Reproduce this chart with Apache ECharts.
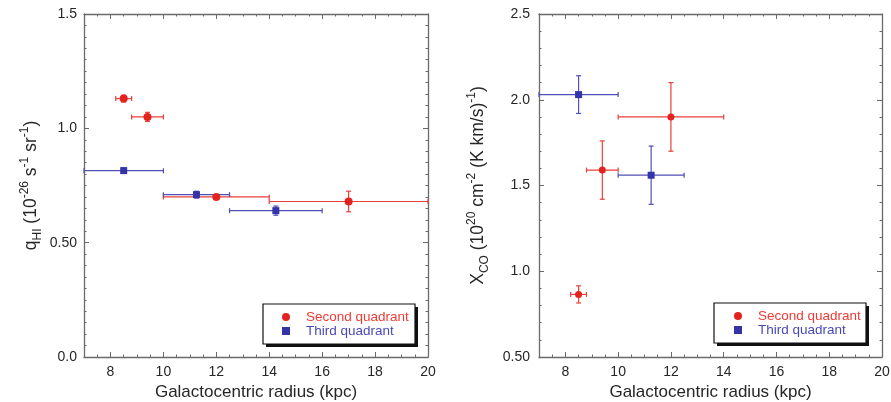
<!DOCTYPE html>
<html>
<head>
<meta charset="utf-8">
<script src="https://cdn.jsdelivr.net/npm/echarts@6/dist/echarts.min.js"></script>
<style>
html,body{margin:0;padding:0;background:#fff;}
#chart{width:891px;height:402px;}
</style>
</head>
<body>
<div id="chart"></div>
<script>
// ---- Data ----
// Left panel: q_HI
const hiSecondX    = [8.5, 9.4, 12.0, 17.0];
const hiSecondY    = [1.13, 1.05, 0.70, 0.68];
const hiSecondXErr = [0.3, 0.6, 2.0, 3.0];
const hiSecondYErr = [0.015, 0.02, 0.01, 0.045];

const hiThirdX    = [8.5, 11.25, 14.25];
const hiThirdY    = [0.815, 0.71, 0.64];
const hiThirdXErr = [1.5, 1.25, 1.75];
const hiThirdYErr = [0.012, 0.015, 0.02];

// Right panel: X_CO
const coSecondX    = [8.5, 9.4, 12.0];
const coSecondY    = [0.865, 1.59, 1.90];
const coSecondXErr = [0.3, 0.6, 2.0];
const coSecondYErr = [0.05, 0.17, 0.20];

const coThirdX    = [8.5, 11.25];
const coThirdY    = [2.03, 1.56];
const coThirdXErr = [1.5, 1.25];
const coThirdYErr = [0.11, 0.17];

// Axis ticks
const xMajorTicks = [8, 10, 12, 14, 16, 18, 20];
const xMinorTicks = [7.5, 8.5, 9, 9.5, 10.5, 11, 11.5, 12.5, 13, 13.5, 14.5, 15, 15.5, 16.5, 17, 17.5, 18.5, 19, 19.5];
const hiYLabels = {0: '0.0', 0.5: '0.50', 1: '1.0', 1.5: '1.5'};
const coYLabels = {0.5: '0.50', 1: '1.0', 1.5: '1.5', 2: '2.0', 2.5: '2.5'};

const seriesNames = ['Second quadrant', 'Third quadrant'];
const RED = '#e3231f';
const BLUE = '#3434a8';
const RED_BAR = '#e8403a';
const BLUE_BAR = '#4f4fb8';

const FONT = 'Liberation Sans, Arial, Helvetica, sans-serif';
const AXIS_COLOR = '#6a6a6a';
const TEXT_COLOR = '#262626';

function zip(xs, ys, ex, ey) {
  return xs.map((x, i) => [x, ys[i], ex[i], ey[i]]);
}

function errRenderer(color) {
  return function (params, api) {
    const x = api.value(0), y = api.value(1), ex = api.value(2), ey = api.value(3);
    const l = api.coord([x - ex, y]);
    const r = api.coord([x + ex, y]);
    const t = api.coord([x, y + ey]);
    const b = api.coord([x, y - ey]);
    const cap = 2.5;
    const st = {stroke: color, lineWidth: 1.2};
    const children = [
      {type: 'line', shape: {x1: l[0], y1: l[1], x2: r[0], y2: r[1]}, style: st},
      {type: 'line', shape: {x1: l[0], y1: l[1] - cap, x2: l[0], y2: l[1] + cap}, style: st},
      {type: 'line', shape: {x1: r[0], y1: r[1] - cap, x2: r[0], y2: r[1] + cap}, style: st},
      {type: 'line', shape: {x1: t[0], y1: t[1], x2: b[0], y2: b[1]}, style: st},
      {type: 'line', shape: {x1: t[0] - cap, y1: t[1], x2: t[0] + cap, y2: t[1]}, style: st},
      {type: 'line', shape: {x1: b[0] - cap, y1: b[1], x2: b[0] + cap, y2: b[1]}, style: st}
    ];
    return {type: 'group', children: children};
  };
}

function xAxes(gridIndex) {
  const base = {
    type: 'value', gridIndex: gridIndex, min: 7, max: 20,
    splitLine: {show: false},
    axisLine: {show: true, onZero: false, lineStyle: {color: AXIS_COLOR, width: 1.3}},
  };
  return [
    Object.assign({}, base, {
      position: 'bottom',
      axisTick: {show: true, inside: true, length: 5, customValues: xMajorTicks, lineStyle: {color: AXIS_COLOR, width: 1}},
      axisLabel: {show: true, customValues: xMajorTicks, margin: 8, fontFamily: FONT, fontSize: 14, color: TEXT_COLOR},
      name: 'Galactocentric radius (kpc)', nameLocation: 'middle', nameGap: 26,
      nameTextStyle: {fontFamily: FONT, fontSize: 17, color: TEXT_COLOR}
    }),
    Object.assign({}, base, {
      position: 'bottom',
      axisLine: {show: false, onZero: false},
      axisTick: {show: true, inside: true, length: 2.5, customValues: xMinorTicks, lineStyle: {color: AXIS_COLOR, width: 1}},
      axisLabel: {show: false}
    }),
    Object.assign({}, base, {
      position: 'top',
      axisTick: {show: true, inside: true, length: 5, customValues: xMajorTicks, lineStyle: {color: AXIS_COLOR, width: 1}},
      axisLabel: {show: false}
    }),
    Object.assign({}, base, {
      position: 'top',
      axisLine: {show: false, onZero: false},
      axisTick: {show: true, inside: true, length: 2.5, customValues: xMinorTicks, lineStyle: {color: AXIS_COLOR, width: 1}},
      axisLabel: {show: false}
    })
  ];
}

function yAxes(gridIndex, min, max, minorSplit, labels, name, nameGap, labelMargin) {
  const base = {
    type: 'value', gridIndex: gridIndex, min: min, max: max, interval: 0.5,
    splitLine: {show: false},
    axisLine: {show: true, onZero: false, lineStyle: {color: AXIS_COLOR, width: 1.3}},
    axisTick: {show: true, inside: true, length: 5, lineStyle: {color: AXIS_COLOR, width: 1}},
    minorTick: {show: true, splitNumber: minorSplit, length: 2.5, lineStyle: {color: AXIS_COLOR, width: 1}}
  };
  return [
    Object.assign({}, base, {
      position: 'left',
      axisLabel: {show: true, margin: labelMargin, fontFamily: FONT, fontSize: 14, color: TEXT_COLOR,
        formatter: v => (labels[v] !== undefined ? labels[v] : '')},
      name: name, nameLocation: 'middle', nameGap: nameGap, nameRotate: 90,
      nameTextStyle: {
        fontFamily: FONT, fontSize: 17, color: TEXT_COLOR,
        rich: {
          m: {fontFamily: FONT, fontSize: 17.5, lineHeight: 25, color: TEXT_COLOR},
          sup: {fontFamily: FONT, fontSize: 12, lineHeight: 25, verticalAlign: 'top', color: TEXT_COLOR},
          sub: {fontFamily: FONT, fontSize: 12, lineHeight: 25, verticalAlign: 'bottom', color: TEXT_COLOR}
        }
      }
    }),
    Object.assign({}, base, {
      position: 'right',
      axisLabel: {show: false}
    })
  ];
}

const chart = echarts.init(document.getElementById('chart'), null, {renderer: 'canvas'});

const xAxisList = xAxes(0).concat(xAxes(1));
const yAxisList = yAxes(0, 0, 1.5, 10, hiYLabels,
    '{m|q}{sub|HI}{m| (10}{sup|-26}{m| s}{sup|-1}{m| sr}{sup|-1}{m|)}', 40, 7)
  .concat(yAxes(1, 0.5, 2.5, 5, coYLabels,
    '{m|X}{sub|CO}{m| (10}{sup|20}{m| cm}{sup|-2}{m| (K km/s)}{sup|-1}{m|)}', 48, 9));

function legendFor(left, top, padLeft) {
  return {
    left: left, top: top, orient: 'vertical',
    data: [
      {name: seriesNames[0], icon: 'circle', textStyle: {color: '#ee3a34'}},
      {name: seriesNames[1], icon: 'rect', textStyle: {color: '#4848b8'}}
    ],
    itemWidth: 8, itemHeight: 8, itemGap: 0,
    padding: [6, 6, 4, padLeft],
    backgroundColor: 'transparent',
    borderWidth: 0,
    textStyle: {fontFamily: FONT, fontSize: 13.5, lineHeight: 14, padding: [0, 0, 0, 11]},
    selectedMode: false,
    z: 10
  };
}

function legendBox(x, y, w, h) {
  return [
    {type: 'rect', z: 5, shape: {x: x + 3, y: y + 3, width: w, height: h}, style: {fill: '#111'}},
    {type: 'rect', z: 6, shape: {x: x, y: y, width: w, height: h}, style: {fill: '#fff', stroke: '#111', lineWidth: 1.2}}
  ];
}

const option = {
  backgroundColor: '#fff',
  animation: false,
  grid: [
    {left: 84, top: 14, width: 344, height: 343, containLabel: false, outerBoundsMode: 'none'},
    {left: 539, top: 14, width: 343, height: 343, containLabel: false, outerBoundsMode: 'none'}
  ],
  xAxis: xAxisList,
  yAxis: yAxisList,
  legend: [legendFor(263, 304, 19), legendFor(714, 303, 20)],
  graphic: legendBox(263, 304, 152, 40).concat(legendBox(714, 303, 152, 40)),
  series: [
    // left panel error bars (xAxis 0, yAxis 0)
    {type: 'custom', name: 'hi second err', xAxisIndex: 0, yAxisIndex: 0, z: 2,
     renderItem: errRenderer(RED_BAR), data: zip(hiSecondX, hiSecondY, hiSecondXErr, hiSecondYErr), encode: {x: 0, y: 1}},
    {type: 'custom', name: 'hi third err', xAxisIndex: 0, yAxisIndex: 0, z: 2,
     renderItem: errRenderer(BLUE_BAR), data: zip(hiThirdX, hiThirdY, hiThirdXErr, hiThirdYErr), encode: {x: 0, y: 1}},
    {type: 'scatter', name: seriesNames[0], xAxisIndex: 0, yAxisIndex: 0, z: 3,
     symbol: 'circle', symbolSize: 8, itemStyle: {color: RED, opacity: 1},
     data: hiSecondX.map((x, i) => [x, hiSecondY[i]])},
    {type: 'scatter', name: seriesNames[1], xAxisIndex: 0, yAxisIndex: 0, z: 3,
     symbol: 'rect', symbolSize: 7, itemStyle: {color: BLUE, opacity: 1},
     data: hiThirdX.map((x, i) => [x, hiThirdY[i]])},
    // right panel (xAxis 4, yAxis 2)
    {type: 'custom', name: 'co second err', xAxisIndex: 4, yAxisIndex: 2, z: 2,
     renderItem: errRenderer(RED_BAR), data: zip(coSecondX, coSecondY, coSecondXErr, coSecondYErr), encode: {x: 0, y: 1}},
    {type: 'custom', name: 'co third err', xAxisIndex: 4, yAxisIndex: 2, z: 2,
     renderItem: errRenderer(BLUE_BAR), data: zip(coThirdX, coThirdY, coThirdXErr, coThirdYErr), encode: {x: 0, y: 1}},
    {type: 'scatter', name: seriesNames[0], xAxisIndex: 4, yAxisIndex: 2, z: 3,
     symbol: 'circle', symbolSize: 7, itemStyle: {color: RED, opacity: 1},
     data: coSecondX.map((x, i) => [x, coSecondY[i]])},
    {type: 'scatter', name: seriesNames[1], xAxisIndex: 4, yAxisIndex: 2, z: 3,
     symbol: 'rect', symbolSize: 7, itemStyle: {color: BLUE, opacity: 1},
     data: coThirdX.map((x, i) => [x, coThirdY[i]])}
  ]
};
chart.setOption(option);
</script>
</body>
</html>
